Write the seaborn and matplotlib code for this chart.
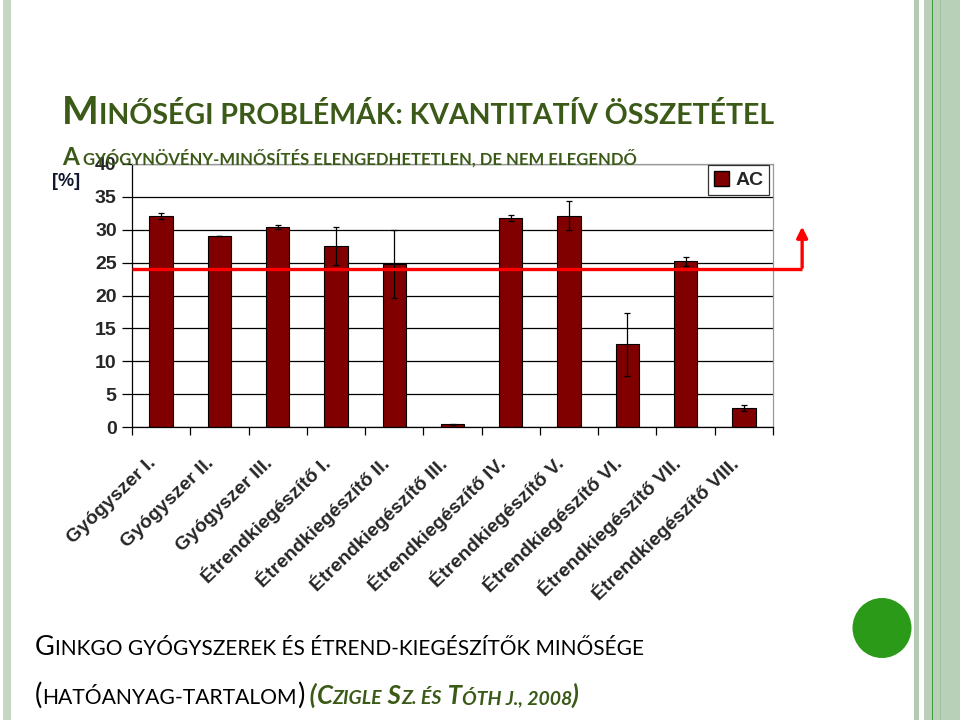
import numpy as np
import pandas as pd
import matplotlib.pyplot as plt
import matplotlib.transforms as mtransforms
import seaborn as sns
from matplotlib.patches import Rectangle, Ellipse, Patch

categories = ['Gyógyszer I.', 'Gyógyszer II.', 'Gyógyszer III.',
              'Étrendkiegészítő I.', 'Étrendkiegészítő II.', 'Étrendkiegészítő III.',
              'Étrendkiegészítő IV.', 'Étrendkiegészítő V.', 'Étrendkiegészítő VI.',
              'Étrendkiegészítő VII.', 'Étrendkiegészítő VIII.']
ac_values = [32.1, 29.0, 30.4, 27.5, 24.8, 0.4, 31.8, 32.1, 12.6, 25.2, 2.9]
ac_errors = [0.4, 0.0, 0.3, 2.9, 5.2, 0.1, 0.5, 2.2, 4.8, 0.7, 0.5]
threshold = 24
y_ticks = [0, 5, 10, 15, 20, 25, 30, 35, 40]

W, H = 960, 720
GREEN = '#3b5a18'

df = pd.DataFrame({'cat': categories, 'AC': ac_values, 'err': ac_errors})

sns.set_theme(style='white')
plt.rcParams['font.family'] = ['Liberation Sans', 'DejaVu Sans']

fig = plt.figure(figsize=(9.6, 7.2), dpi=100)
ax = fig.add_axes([132 / W, 1 - 427 / H, 641 / W, 263 / H])

sns.barplot(data=df, x='cat', y='AC', color='#800000', edgecolor='black',
            linewidth=0.8, width=0.4, errorbar=None, saturation=1, ax=ax)
ax.errorbar(np.arange(len(df)), df['AC'], yerr=df['err'], fmt='none',
            ecolor='black', elinewidth=0.9, capsize=2.5, capthick=0.9, zorder=4)

ax.set_xlim(-0.5, len(df) - 0.5)
ax.set_ylim(0, 40)
ax.set_yticks(y_ticks)
ax.yaxis.grid(True, color='black', linewidth=0.9)
ax.set_axisbelow(True)
for s in ['top', 'right']:
    ax.spines[s].set_color('#999999')
    ax.spines[s].set_linewidth(0.9)
for s in ['left', 'bottom']:
    ax.spines[s].set_color('black')
    ax.spines[s].set_linewidth(0.9)
ax.set_xlabel('')
ax.set_ylabel('')
ax.tick_params(axis='y', left=True, length=7, width=0.9, color='black',
               labelsize=14, pad=4)
for lab in ax.get_yticklabels():
    lab.set_fontweight('bold')
ax.set_xticks(np.arange(len(df)))
ax.set_xticklabels(categories, rotation=44, ha='right', rotation_mode='anchor',
                   fontsize=14, fontweight='bold', va='center')
ax.tick_params(axis='x', bottom=False, pad=16)
# nudge rotated labels so their upper end sits below the bar, like Excel
shift = mtransforms.ScaledTranslation(-8 / 100, -3 / 100, fig.dpi_scale_trans)
for lab in ax.get_xticklabels():
    lab.set_transform(lab.get_transform() + shift)
ax.set_xticks(np.arange(len(df) + 1) - 0.5, minor=True)
ax.tick_params(axis='x', which='minor', bottom=True, length=6, width=0.9, color='black')

leg = ax.legend(handles=[Patch(facecolor='#800000', edgecolor='black', label='AC')],
                loc='upper right', bbox_to_anchor=(0.994, 0.995), frameon=True,
                fancybox=False, edgecolor='black', handlelength=0.8, handleheight=0.8,
                handletextpad=0.3, borderpad=0.3, borderaxespad=0,
                prop={'weight': 'bold', 'size': 14})
leg.get_frame().set_linewidth(0.9)

# threshold line with arrow
ax.plot([-0.5, len(df)], [threshold, threshold], color='red', lw=2.4,
        clip_on=False, zorder=5, solid_capstyle='butt')
ax.annotate('', xy=(len(df), 30.9), xytext=(len(df), threshold - 0.15),
            arrowprops=dict(arrowstyle='-|>', color='red', lw=2.4, mutation_scale=16),
            annotation_clip=False, zorder=5)

fig.text(52 / W, 1 - 186 / H, '[%]', fontsize=13, fontweight='bold', color='#101830')

# slide decoration
fig.patches.append(Rectangle((3 / W, 0), 8 / W, 1, transform=fig.transFigure,
                             facecolor='#c4d8c4', edgecolor='none'))
fig.patches.append(Rectangle((914 / W, 0), 5 / W, 1, transform=fig.transFigure,
                             facecolor='#b3cab3', edgecolor='none'))
fig.patches.append(Rectangle((924 / W, 0), 36 / W, 1, transform=fig.transFigure,
                             facecolor='#b8cfb8', edgecolor='none'))
fig.patches.append(Rectangle((931.5 / W, 0), 1.5 / W, 1, transform=fig.transFigure,
                             facecolor='#3d9b3d', edgecolor='none'))
fig.patches.append(Rectangle((940 / W, 0), 1 / W, 1, transform=fig.transFigure,
                             facecolor='#a3c0a3', edgecolor='none'))
fig.patches.append(Ellipse((882 / W, 1 - 628 / H), 59 / W, 60 / H,
                           transform=fig.transFigure, facecolor='#2b9a18',
                           edgecolor='none'))

renderer = fig.canvas.get_renderer()


def draw_runs(x, y, runs):
    # runs: (text, size, color, weight, style); x, y in pixels from top-left
    for txt, size, color, weight, style in runs:
        t = fig.text(x / W, 1 - y / H, txt, fontsize=size, color=color,
                     fontweight=weight, fontstyle=style, va='baseline',
                     family=['Lato', 'DejaVu Sans'])
        x += t.get_window_extent(renderer).width


draw_runs(62, 124, [('M', 28, GREEN, 'bold', 'normal'),
                    ('INŐSÉGI PROBLÉMÁK: KVANTITATÍV ÖSSZETÉTEL', 20.5, GREEN, 'bold', 'normal')])
draw_runs(62, 165, [('A', 17.5, GREEN, 'bold', 'normal'),
                    (' GYÓGYNÖVÉNY-MINŐSÍTÉS ELENGEDHETETLEN, DE NEM ELEGENDŐ', 12, GREEN, 'bold', 'normal')])
draw_runs(35, 655, [('G', 19.5, 'black', 'normal', 'normal'),
                    ('INKGO GYÓGYSZEREK ÉS ÉTREND-KIEGÉSZÍTŐK MINŐSÉGE', 15, 'black', 'normal', 'normal')])
draw_runs(35, 704, [('(', 20, 'black', 'normal', 'normal'),
                    ('HATÓANYAG-TARTALOM', 15.2, 'black', 'normal', 'normal'),
                    (')', 20, 'black', 'normal', 'normal'),
                    (' (', 18.5, GREEN, 'bold', 'italic'),
                    ('C', 18.5, GREEN, 'bold', 'italic'),
                    ('ZIGLE', 14, GREEN, 'bold', 'italic'),
                    (' S', 18.5, GREEN, 'bold', 'italic'),
                    ('Z. ÉS', 14, GREEN, 'bold', 'italic'),
                    (' T', 18.5, GREEN, 'bold', 'italic'),
                    ('ÓTH J., 2008', 14, GREEN, 'bold', 'italic'),
                    (')', 18.5, GREEN, 'bold', 'italic')])

fig.savefig('out.png', dpi=100, facecolor='white')
